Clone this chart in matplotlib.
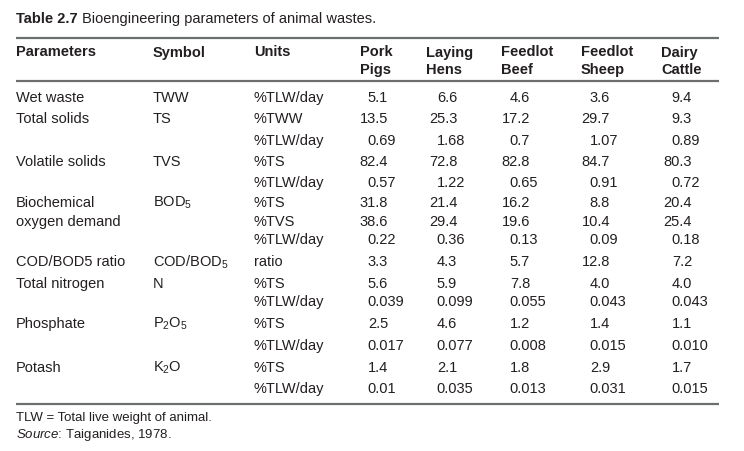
import matplotlib
matplotlib.use("Agg")
import matplotlib.pyplot as plt

plt.rcParams['font.family'] = ['Liberation Sans', 'DejaVu Sans']
plt.rcParams['mathtext.fontset'] = 'custom'
plt.rcParams['mathtext.rm'] = 'Liberation Sans'
plt.rcParams['mathtext.it'] = 'Liberation Sans:italic'
plt.rcParams['mathtext.bf'] = 'Liberation Sans:bold'

# table content
headers = ["Parameters", "Symbol", "Units", "Pork\nPigs", "Laying\nHens",
           "Feedlot\nBeef", "Feedlot\nSheep", "Dairy\nCattle"]
params = ["Wet waste", "Total solids", "", "Volatile solids", "",
          "Biochemical", "oxygen demand", "", "COD/BOD5 ratio",
          "Total nitrogen", "", "Phosphate", "", "Potash", ""]
symbols = ["TWW", "TS", "", "TVS", "", "BOD$_5$", "", "", "COD/BOD$_5$",
           "N", "", "P$_2$O$_5$", "", "K$_2$O", ""]
units = ["%TLW/day", "%TWW", "%TLW/day", "%TS", "%TLW/day", "%TS", "%TVS",
         "%TLW/day", "ratio", "%TS", "%TLW/day", "%TS", "%TLW/day", "%TS",
         "%TLW/day"]
pork_pigs = ["5.1", "13.5", "0.69", "82.4", "0.57", "31.8", "38.6", "0.22",
             "3.3", "5.6", "0.039", "2.5", "0.017", "1.4", "0.01"]
laying_hens = ["6.6", "25.3", "1.68", "72.8", "1.22", "21.4", "29.4", "0.36",
               "4.3", "5.9", "0.099", "4.6", "0.077", "2.1", "0.035"]
feedlot_beef = ["4.6", "17.2", "0.7", "82.8", "0.65", "16.2", "19.6", "0.13",
                "5.7", "7.8", "0.055", "1.2", "0.008", "1.8", "0.013"]
feedlot_sheep = ["3.6", "29.7", "1.07", "84.7", "0.91", "8.8", "10.4", "0.09",
                 "12.8", "4.0", "0.043", "1.4", "0.015", "2.9", "0.031"]
dairy_cattle = ["9.4", "9.3", "0.89", "80.3", "0.72", "20.4", "25.4", "0.18",
                "7.2", "4.0", "0.043", "1.1", "0.010", "1.7", "0.015"]
title_bold = "Table 2.7"
title_text = "Bioengineering parameters of animal wastes."
note = "TLW = Total live weight of animal."
source = r"$\it{Source}$: Taiganides, 1978."

# layout (pixel coords)
W, H = 744, 451
text_x = [16, 153, 254]
head_x = [16, 153, 254, 360, 426, 501, 581, 661]
dec_x = [376, 445, 518, 598, 680]
row_y = [98, 119, 141, 162, 183, 203, 222, 240, 262, 284, 302, 324, 346, 368, 389]
rule_breaks = [16, 148, 248, 352, 420, 495, 574, 654, 719]
fs = 10.5
ink = "#231f20"

fig = plt.figure(figsize=(W / 100, H / 100), dpi=100)
ax = fig.add_axes([0, 0, 1, 1])
ax.set_xlim(0, W)
ax.set_ylim(H, 0)
ax.axis("off")
fig.canvas.draw()
renderer = fig.canvas.get_renderer()

# title
t = ax.text(16, 19, title_bold + " ", fontsize=fs, fontweight="bold", color=ink, va="center")
ax.annotate(title_text, xy=(1, 0.5), xycoords=t, va="center", ha="left",
            fontsize=fs, color=ink)

# rules
def rule(y):
    for a, b in zip(rule_breaks[:-1], rule_breaks[1:]):
        ax.plot([a + 0.3, b - 0.3], [y, y], color="#6d6e70", lw=1.6,
                solid_capstyle="butt")

rule(37.5)
rule(81)
rule(404)

# headers, one text per line on a shared baseline
for x, h in zip(head_x, headers):
    for i, line in enumerate(h.split("\n")):
        ax.text(x, 56.5 + 17.5 * i, line, fontsize=fs, fontweight="bold",
                color=ink, va="baseline", ha="left")

# text columns
for col, x in zip([params, symbols, units], text_x):
    for y, s in zip(row_y, col):
        if s:
            ax.text(x, y, s, fontsize=fs, color=ink, va="center", ha="left")

# numeric columns, aligned on the decimal point
for col, x in zip([pork_pigs, laying_hens, feedlot_beef, feedlot_sheep, dairy_cattle], dec_x):
    for y, s in zip(row_y, col):
        ip = s.split(".")[0]
        probe = ax.text(0, 0, ip, fontsize=fs)
        w = probe.get_window_extent(renderer).width
        probe.remove()
        ax.text(x - w, y, s, fontsize=fs, color=ink, va="center", ha="left")

# footnotes
ax.text(16, 418, note, fontsize=9.5, color=ink, va="center", ha="left")
ax.text(16, 435, source, fontsize=9.5, color=ink, va="center", ha="left")

fig.savefig("out.png", dpi=100)
